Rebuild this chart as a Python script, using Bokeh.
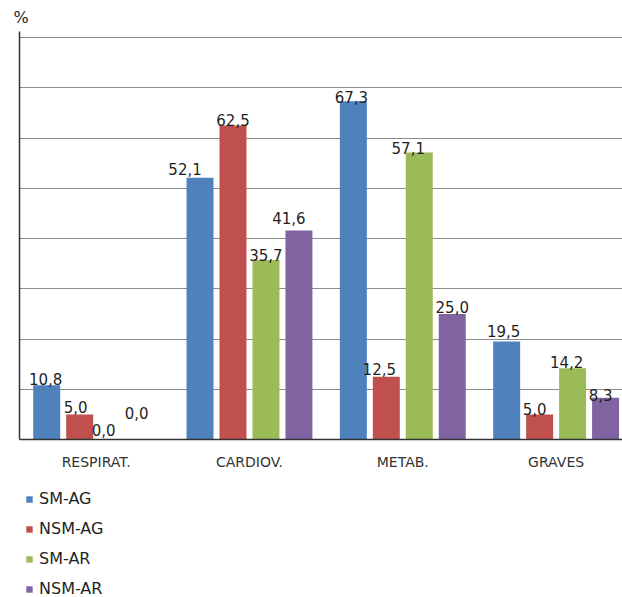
from bokeh.plotting import figure
from bokeh.models import ColumnDataSource, Legend, LegendItem, FixedTicker, Range1d, Title
from bokeh.layouts import column
from bokeh.embed import file_html
from bokeh.resources import INLINE
from bokeh.core.properties import value

categories = ["RESPIRAT.", "CARDIOV.", "METAB.", "GRAVES"]
series_names = ["SM-AG", "NSM-AG", "SM-AR", "NSM-AR"]
sm_ag = [10.8, 52.1, 67.3, 19.5]
nsm_ag = [5.0, 62.5, 12.5, 5.0]
sm_ar = [0.0, 35.7, 57.1, 14.2]
nsm_ar = [0.0, 41.6, 25.0, 8.3]

colors = ["#4F81BD", "#C0504D", "#9BBB59", "#8064A2"]
all_series = [sm_ag, nsm_ag, sm_ar, nsm_ar]

# label nudges (screen px, positive = up) for manually moved labels
label_dx = [[-1, -15, -2, -3], [-4, 0, -7, -5], [-9, 0, -11, -6], [-9, -10, 0, -5]]
label_dy = [[1, 4, -1, 6], [2, 0, 3, 0], [5, 0, 0, 1], [22, 7, 2, -2]]

FONT = "DejaVu Sans"
TXT = "#1F1F1F"

p = figure(width=622, height=472, output_backend="svg", toolbar_location=None,
           x_range=Range1d(-0.5, 3.433), y_range=Range1d(0, 81.2),
           min_border_left=19, min_border_right=0, min_border_top=0,
           min_border_bottom=32)
p.outline_line_color = None

p.add_layout(Title(text="%", text_font=FONT, text_font_size="16px",
                   text_font_style="normal", text_color=TXT,
                   offset=-6, standoff=10), "above")

bar_w = 0.176
step = 0.215
for i, (vals, col) in enumerate(zip(all_series, colors)):
    off = (i - 1.5) * step
    xs = [j + off for j in range(len(categories))]
    src = ColumnDataSource(dict(
        x=xs, top=vals,
        label=[f"{v:.1f}".replace(".", ",") for v in vals],
        dx=label_dx[i], dy=[-(5 + d) for d in label_dy[i]]))
    p.vbar(x="x", top="top", width=bar_w, source=src, fill_color=col,
           line_color=None)
    p.text(x="x", y="top", text="label", source=src, x_offset="dx",
           y_offset="dy", text_align="center", text_baseline="alphabetic",
           text_font=value(FONT), text_font_size="15px", text_color=TXT)

p.xaxis.ticker = FixedTicker(ticks=[0, 1, 2, 3])
p.xaxis.major_label_overrides = {i: c for i, c in enumerate(categories)}
p.xaxis.major_label_text_font = FONT
p.xaxis.major_label_text_font_size = "14px"
p.xaxis.major_label_text_color = "#333333"
p.xaxis.major_tick_line_color = None
p.xaxis.minor_tick_line_color = None
p.xaxis.axis_line_color = "#333333"
p.xaxis.axis_line_width = 1.5
p.xaxis.major_label_standoff = 8

yticks = [0, 10, 20, 30, 40, 50, 60, 70, 80]
p.yaxis.ticker = FixedTicker(ticks=yticks)
p.yaxis.major_label_overrides = {t: "" for t in yticks}
p.yaxis.major_tick_line_color = None
p.yaxis.minor_tick_line_color = None
p.yaxis.axis_line_color = "#333333"
p.yaxis.axis_line_width = 1.5
p.yaxis.major_label_standoff = 0

p.xgrid.grid_line_color = None
p.ygrid.grid_line_color = "#8C8C8C"
p.ygrid.grid_line_width = 1.2

# legend panel below the chart (proxy glyphs lie outside the visible range)
p2 = figure(width=622, height=125, output_backend="svg", toolbar_location=None,
            x_range=Range1d(0, 1), y_range=Range1d(0, 1),
            x_axis_location=None, y_axis_location=None,
            min_border_left=0, min_border_right=0, min_border_top=0,
            min_border_bottom=0)
p2.outline_line_color = None
p2.grid.visible = False
items = []
for col, name in zip(colors, series_names):
    r = p2.vbar(x=[5], top=[0], width=0.1, fill_color=col, line_color=None)
    items.append(LegendItem(label=name, renderers=[r]))
legend = Legend(items=items, orientation="vertical", location=(6, -1),
                label_text_font=FONT, label_text_font_size="16px",
                label_text_color=TXT, glyph_width=8, glyph_height=8,
                label_height=14, spacing=11, label_standoff=6,
                padding=0, margin=0, border_line_color=None,
                background_fill_alpha=0)
p2.add_layout(legend, "center")

open("out.html", "w").write(file_html(column(p, p2, spacing=0), INLINE))
